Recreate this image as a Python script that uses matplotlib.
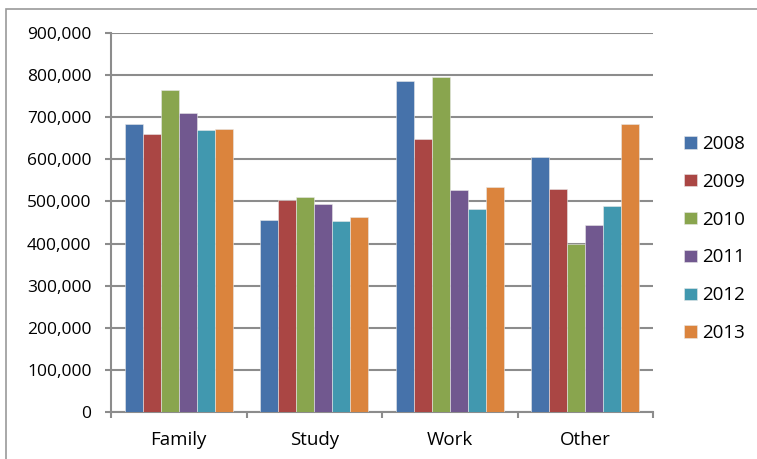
import numpy as np
import matplotlib.pyplot as plt
from matplotlib.patches import Rectangle
from matplotlib.ticker import FuncFormatter

categories = ["Family", "Study", "Work", "Other"]
years = ["2008", "2009", "2010", "2011", "2012", "2013"]
v2008 = [685000, 455000, 786000, 606000]
v2009 = [661000, 504000, 648000, 530000]
v2010 = [764000, 510000, 796000, 400000]
v2011 = [711000, 494000, 527000, 445000]
v2012 = [670000, 454000, 481000, 490000]
v2013 = [673000, 464000, 535000, 684000]
series = [v2008, v2009, v2010, v2011, v2012, v2013]

colors = ["#4672AA", "#AA4644", "#89A54E", "#71588F", "#4198AF", "#DB843D"]
grid_c = "#8C8C8C"

plt.rcParams["font.family"] = ["Open Sans", "DejaVu Sans"]

fig = plt.figure(figsize=(7.57, 4.59), dpi=100)
# outer chart frame
fig.patches.append(Rectangle((6/757, -0.1), 1.2, 1 - 9/459 + 0.1, transform=fig.transFigure,
                             fill=False, edgecolor="#9A9A9A", lw=1.2))

ax = fig.add_axes([111/757, 1 - 412/459, 542/757, 379/459])
x = np.arange(len(categories))
w = 1/7.5
for i, (vals, yr) in enumerate(zip(series, years)):
    ax.bar(x + (i - 2.5)*w, vals, width=w, color=colors[i], label=yr,
           edgecolor="#E8E8E8", linewidth=0.4, zorder=3)

ax.set_xlim(-0.5, 3.5)
ax.set_ylim(0, 900000)
ax.set_yticks(np.arange(0, 900001, 100000))
ax.yaxis.set_major_formatter(FuncFormatter(lambda v, p: f"{int(v):,}"))
ax.set_xticks(x)
ax.set_xticklabels(categories)
ax.set_xticks(np.arange(-0.5, 4, 1), minor=True)
ax.tick_params(axis="x", which="major", length=0, pad=14, labelsize=13.5)
ax.tick_params(axis="x", which="minor", length=4.5, color=grid_c, width=1.5)
ax.tick_params(axis="y", length=4.5, color=grid_c, width=1.5, labelsize=12.5, pad=9.5)
ax.grid(axis="y", color=grid_c, lw=1.5, zorder=0)
for s in ["top", "right"]:
    ax.spines[s].set_visible(False)
for s in ["left", "bottom"]:
    ax.spines[s].set_color(grid_c)
    ax.spines[s].set_linewidth(1.5)

fig.legend(loc="upper left", bbox_to_anchor=(667/757, 1 - 118/459), frameon=False,
           fontsize=13.5, handlelength=0.7, handleheight=0.65, handletextpad=0.25,
           labelspacing=1.06)

fig.savefig("out.png")
